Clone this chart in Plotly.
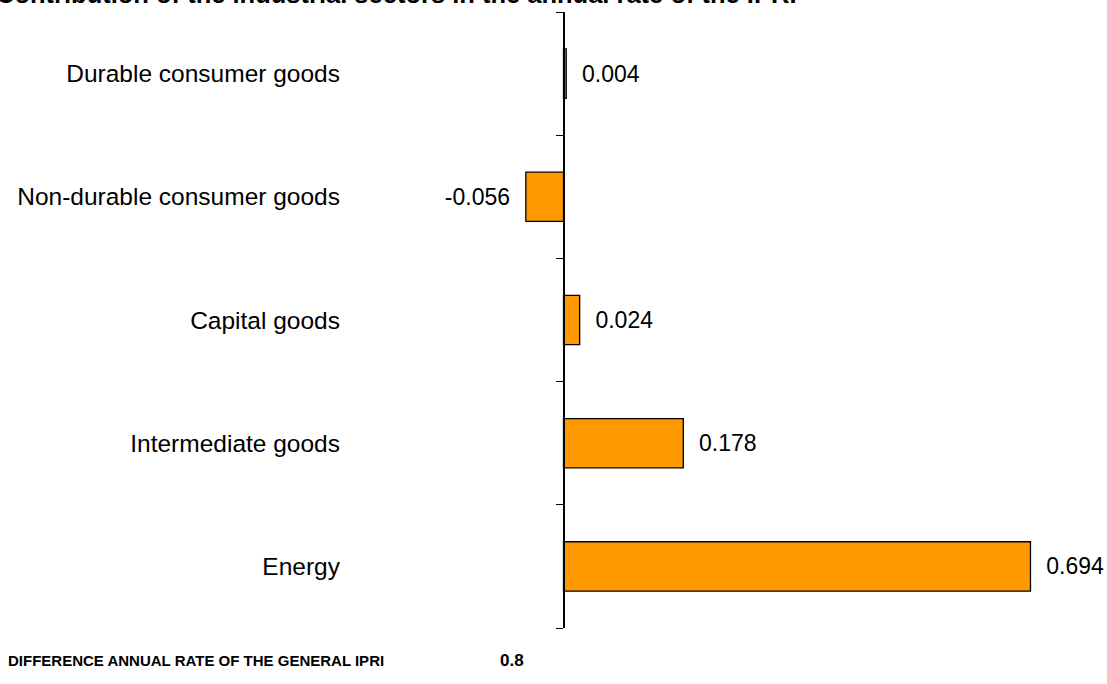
import plotly.graph_objects as go

categories = ["Durable consumer goods", "Non-durable consumer goods", "Capital goods",
              "Intermediate goods", "Energy"]
values = [0.004, -0.056, 0.024, 0.178, 0.694]
title_text = "Contribution of the industrial sectors in the annual rate of the IPRI"
footer_label = "DIFFERENCE ANNUAL RATE OF THE GENERAL IPRI"
footer_value = "0.8"

W, H = 1107, 684
ml, mr, mt, mb = 350, 7, 12, 56
PW, PH = W - ml - mr, H - mt - mb
xrange_ = [-0.3173, 0.7973]
zero_pos = (0 - xrange_[0]) / (xrange_[1] - xrange_[0])

labels = [("&nbsp;&nbsp;" + f"{v:.3f}") if v >= 0 else (f"{v:.3f}" + "&nbsp;&nbsp;") for v in values]

fig = go.Figure()
fig.add_trace(go.Bar(
    y=categories, x=values, orientation="h", width=0.4,
    marker=dict(color="#FF9900", line=dict(color="#000000", width=1.3)),
    text=labels, textposition="outside", cliponaxis=False,
    textfont=dict(family="Liberation Sans, Arial", size=23, color="#000"),
    showlegend=False, hoverinfo="skip",
))
fig.add_trace(go.Scatter(x=[None], y=[None], yaxis="y2", showlegend=False))

fig.update_layout(
    width=W, height=H, autosize=False,
    margin=dict(l=ml, r=mr, t=mt, b=mb),
    plot_bgcolor="white", paper_bgcolor="white",
    xaxis=dict(range=xrange_, visible=False, showgrid=False, zeroline=False),
    yaxis=dict(categoryorder="array", categoryarray=categories, range=[4.5, -0.5],
               showline=False, ticks="", showgrid=False, zeroline=False,
               ticklabelstandoff=9,
               tickfont=dict(family="Liberation Sans, Arial", size=24.5, color="#000")),
    yaxis2=dict(overlaying="y", anchor="free", position=zero_pos, side="left",
                range=[-0.5, 4.5], tick0=-0.5, dtick=1, ticks="outside", ticklen=7,
                tickwidth=1.3, tickcolor="#000", showline=True, linecolor="#000",
                linewidth=1.5, showticklabels=False, showgrid=False, zeroline=False),
    annotations=[
        dict(text="<b>" + title_text + "</b>", xref="paper", yref="paper",
             x=-(ml + 6) / PW, y=1 + (12 - 10) / PH, xanchor="left", yanchor="bottom",
             showarrow=False, font=dict(family="Liberation Sans, Arial", size=25.5, color="#000")),
        dict(text="<b>" + footer_label + "</b>", xref="paper", yref="paper",
             x=(6 - ml) / PW, y=-(660 - 628) / PH,
             xanchor="left", yanchor="middle", showarrow=False,
             font=dict(family="Liberation Sans, Arial", size=15, color="#000")),
        dict(text="<b>" + footer_value + "</b>", xref="paper", yref="paper",
             x=(498 - ml) / PW, y=-(660 - 628) / PH,
             xanchor="left", yanchor="middle", showarrow=False,
             font=dict(family="Liberation Sans, Arial", size=17, color="#000")),
    ],
)

fig.write_html("out.html", config={"displayModeBar": False},
               post_script="document.body.style.margin='0';")
